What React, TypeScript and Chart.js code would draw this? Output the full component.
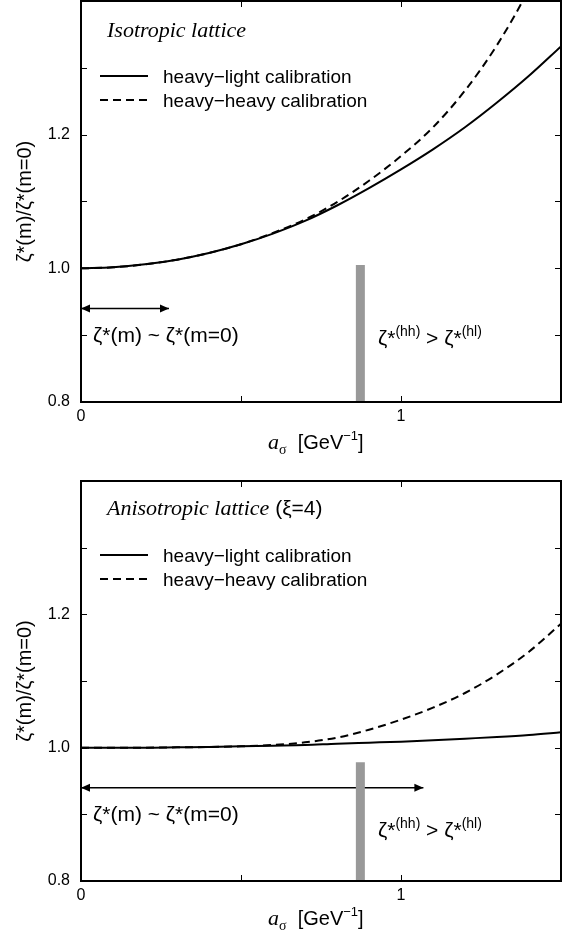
import React, { useEffect, useRef } from 'react';
import { Chart, registerables } from 'chart.js';

Chart.register(...registerables);

// lattice spacing a_sigma [GeV^-1]
const A_SIGMA = [0, 0.1, 0.2, 0.3, 0.4, 0.5, 0.6, 0.7, 0.8, 0.9, 1.0, 1.1, 1.2, 1.3, 1.4, 1.5];

// zeta*(m)/zeta*(m=0), isotropic lattice
const ISO_HEAVY_LIGHT = [1.0, 1.0015, 1.006, 1.013, 1.023, 1.036, 1.052, 1.071, 1.094, 1.12, 1.148, 1.178, 1.211, 1.248, 1.288, 1.332];
const ISO_HEAVY_HEAVY = [1.0, 1.0015, 1.006, 1.013, 1.023, 1.036, 1.053, 1.073, 1.099, 1.131, 1.168, 1.211, 1.266, 1.334, 1.418, 1.52];

// zeta*(m)/zeta*(m=0), anisotropic lattice (xi = 4)
const ANISO_HEAVY_LIGHT = [1.0, 1.0, 1.0, 1.0005, 1.001, 1.002, 1.003, 1.004, 1.006, 1.0075, 1.009, 1.011, 1.0135, 1.016, 1.019, 1.023];
const ANISO_HEAVY_HEAVY = [1.0, 1.0, 1.0, 1.0005, 1.001, 1.002, 1.004, 1.008, 1.015, 1.027, 1.042, 1.06, 1.082, 1.11, 1.144, 1.186];

// axis ranges and labels
const X_MIN = 0;
const X_MAX = 1.5;
const Y_MIN = 0.8;
const Y_MAX = 1.4;
const X_LABELS = [0, 1];
const Y_LABELS = [0.8, 1.0, 1.2];
const X_MINOR = [0.5, 1.0];
const Y_MINOR = [0.9, 1.0, 1.1, 1.2, 1.3];

// grey marker separating the two regimes, and the range arrow
const BAR_A = 0.873;
const ISO_BAR_TOP = 1.005;
const ANISO_BAR_TOP = 0.978;
const ARROW_Y = 0.94;
const ISO_ARROW_END = 0.275;
const ANISO_ARROW_END = 1.07;

const SANS = '"Liberation Sans", Arial, Helvetica, sans-serif';
const SERIF = '"Liberation Serif", "Times New Roman", Times, serif';
const GREY = '#999999';
const WIDTH = 573;

type Run = { text: string; font: string; dy?: number };

type Panel = {
  heavyLight: number[];
  heavyHeavy: number[];
  barTop: number;
  arrowEnd: number;
  hhLabelY: number;
  title: Run[];
  height: number;
  padTop: number;
  xAxisHeight: number;
  titleBaseline: number;
  legendY: number;
  xTitleBaseline: number;
};

const ISO_PANEL: Panel = {
  heavyLight: ISO_HEAVY_LIGHT,
  heavyHeavy: ISO_HEAVY_HEAVY,
  barTop: ISO_BAR_TOP,
  arrowEnd: ISO_ARROW_END,
  hhLabelY: 0.8955,
  title: [{ text: 'Isotropic lattice', font: `italic 22px ${SERIF}` }],
  height: 470,
  padTop: 1,
  xAxisHeight: 68,
  titleBaseline: 36,
  legendY: 75,
  xTitleBaseline: 47,
};

const ANISO_PANEL: Panel = {
  heavyLight: ANISO_HEAVY_LIGHT,
  heavyHeavy: ANISO_HEAVY_HEAVY,
  barTop: ANISO_BAR_TOP,
  arrowEnd: ANISO_ARROW_END,
  hhLabelY: 0.876,
  title: [
    { text: 'Anisotropic lattice', font: `italic 22px ${SERIF}` },
    { text: ' (ξ=4)', font: `21px ${SANS}` },
  ],
  height: 465,
  padTop: 11,
  xAxisHeight: 54,
  titleBaseline: 34,
  legendY: 74,
  xTitleBaseline: 44,
};

function drawRuns(ctx: CanvasRenderingContext2D, runs: Run[], x: number, y: number, align: 'left' | 'center' = 'left') {
  ctx.save();
  ctx.textBaseline = 'alphabetic';
  ctx.textAlign = 'left';
  ctx.fillStyle = '#000';
  let total = 0;
  const widths = runs.map((r) => {
    ctx.font = r.font;
    const w = ctx.measureText(r.text).width;
    total += w;
    return w;
  });
  let cx = align === 'center' ? x - total / 2 : x;
  runs.forEach((r, i) => {
    ctx.font = r.font;
    ctx.fillText(r.text, cx, y + (r.dy || 0));
    cx += widths[i];
  });
  ctx.restore();
}

function arrowHead(ctx: CanvasRenderingContext2D, tipX: number, y: number, dir: number) {
  const len = 9;
  const half = 4;
  ctx.beginPath();
  ctx.moveTo(tipX, y);
  ctx.lineTo(tipX - dir * len, y - half);
  ctx.lineTo(tipX - dir * len, y + half);
  ctx.closePath();
  ctx.fill();
}

function decorPlugin(p: Panel) {
  return {
    id: 'panelDecor',
    afterDraw(chart: any) {
      const ctx: CanvasRenderingContext2D = chart.ctx;
      const { left, right, top, bottom } = chart.chartArea;
      const xs = chart.scales.x;
      const ys = chart.scales.y;
      ctx.save();

      // arrow heads on the range arrow
      ctx.fillStyle = '#000';
      const ay = ys.getPixelForValue(ARROW_Y);
      arrowHead(ctx, xs.getPixelForValue(0), ay, -1);
      arrowHead(ctx, xs.getPixelForValue(p.arrowEnd), ay, 1);

      // inward tick marks on all four sides
      ctx.strokeStyle = '#000';
      ctx.lineWidth = 1;
      const tl = 6;
      ctx.beginPath();
      Y_MINOR.forEach((v) => {
        const y = Math.round(ys.getPixelForValue(v)) + 0.5;
        ctx.moveTo(left, y);
        ctx.lineTo(left + tl, y);
        ctx.moveTo(right, y);
        ctx.lineTo(right - tl, y);
      });
      X_MINOR.forEach((v) => {
        const x = Math.round(xs.getPixelForValue(v)) + 0.5;
        ctx.moveTo(x, bottom);
        ctx.lineTo(x, bottom - tl);
        ctx.moveTo(x, top);
        ctx.lineTo(x, top + tl);
      });
      ctx.stroke();

      // frame
      ctx.lineWidth = 2;
      ctx.strokeRect(left, top, right - left, bottom - top);

      // panel title
      drawRuns(ctx, p.title, left + 26, top + p.titleBaseline);

      // legend
      const rows: { label: string; dash: number[] }[] = [
        { label: 'heavy−light calibration', dash: [] },
        { label: 'heavy−heavy calibration', dash: [8, 5] },
      ];
      rows.forEach((r, i) => {
        const y = top + p.legendY + i * 24;
        ctx.save();
        ctx.lineWidth = 2;
        ctx.setLineDash(r.dash);
        ctx.beginPath();
        ctx.moveTo(left + 19, y);
        ctx.lineTo(left + 67, y);
        ctx.stroke();
        ctx.restore();
        drawRuns(ctx, [{ text: r.label, font: `19px ${SANS}` }], left + 82, y + 7);
      });

      // annotations
      drawRuns(ctx, [{ text: 'ζ*(m) ~ ζ*(m=0)', font: `21px ${SANS}` }], left + 12, ys.getPixelForValue(0.9) + 7);
      const big = `21px ${SANS}`;
      const small = `14px ${SANS}`;
      drawRuns(
        ctx,
        [
          { text: 'ζ*', font: big },
          { text: '(hh)', font: small, dy: -9 },
          { text: ' > ', font: big },
          { text: 'ζ*', font: big },
          { text: '(hl)', font: small, dy: -9 },
        ],
        xs.getPixelForValue(0.928),
        ys.getPixelForValue(p.hhLabelY) + 7,
      );

      // x axis title
      drawRuns(
        ctx,
        [
          { text: 'a', font: `italic 22px ${SERIF}` },
          { text: 'σ', font: `14px ${SERIF}`, dy: 5 },
          { text: '  [GeV', font: `20px ${SANS}` },
          { text: '−1', font: `13px ${SANS}`, dy: -9 },
          { text: ']', font: `20px ${SANS}` },
        ],
        left + 187,
        bottom + p.xTitleBaseline,
      );

      // y axis title
      ctx.save();
      ctx.translate(31, (top + bottom) / 2);
      ctx.rotate(-Math.PI / 2);
      drawRuns(ctx, [{ text: 'ζ*(m)/ζ*(m=0)', font: `20px ${SANS}` }], 0, 0, 'center');
      ctx.restore();

      ctx.restore();
    },
  };
}

function buildConfig(p: Panel): any {
  const pts = (ys: number[]) => A_SIGMA.map((x, i) => ({ x, y: ys[i] }));
  const tickFont = { family: SANS, size: 16 };
  return {
    type: 'line',
    data: {
      datasets: [
        {
          label: 'marker',
          data: [
            { x: BAR_A, y: Y_MIN },
            { x: BAR_A, y: p.barTop },
          ],
          borderColor: GREY,
          borderWidth: 9,
          borderCapStyle: 'butt',
          pointRadius: 0,
          tension: 0,
          clip: 0,
        },
        {
          label: 'heavy−light calibration',
          data: pts(p.heavyLight),
          borderColor: '#000',
          borderWidth: 2,
          pointRadius: 0,
          cubicInterpolationMode: 'monotone',
          clip: 0,
        },
        {
          label: 'heavy−heavy calibration',
          data: pts(p.heavyHeavy),
          borderColor: '#000',
          borderWidth: 2,
          borderDash: [8, 5],
          pointRadius: 0,
          cubicInterpolationMode: 'monotone',
          clip: 0,
        },
        {
          label: 'range',
          data: [
            { x: 0, y: ARROW_Y },
            { x: p.arrowEnd, y: ARROW_Y },
          ],
          borderColor: '#000',
          borderWidth: 1.5,
          pointRadius: 0,
          tension: 0,
        },
      ],
    },
    options: {
      responsive: false,
      maintainAspectRatio: false,
      animation: false,
      events: [],
      layout: { padding: { top: p.padTop, right: 12, left: 0, bottom: 0 } },
      plugins: {
        legend: { display: false },
        tooltip: { enabled: false },
        title: { display: false },
      },
      scales: {
        x: {
          type: 'linear',
          min: X_MIN,
          max: X_MAX,
          grid: { display: false, drawTicks: false },
          border: { display: false },
          ticks: {
            stepSize: 0.5,
            padding: 5,
            color: '#000',
            font: tickFont,
            maxRotation: 0,
            autoSkip: false,
            callback: (v: number) => (X_LABELS.some((l) => Math.abs(l - v) < 1e-6) ? String(Math.round(v)) : ''),
          },
          afterFit: (s: any) => {
            s.height = p.xAxisHeight;
            s.paddingLeft = 0;
            s.paddingRight = 0;
          },
        },
        y: {
          type: 'linear',
          min: Y_MIN,
          max: Y_MAX,
          grid: { display: false, drawTicks: false },
          border: { display: false },
          ticks: {
            stepSize: 0.2,
            padding: 11,
            color: '#000',
            font: tickFont,
            callback: (v: number) => (Y_LABELS.some((l) => Math.abs(l - v) < 1e-6) ? v.toFixed(1) : ''),
          },
          afterFit: (s: any) => {
            s.width = 81;
            s.paddingTop = 0;
            s.paddingBottom = 0;
          },
        },
      },
    },
    plugins: [decorPlugin(p)],
  };
}

function PanelChart({ panel }: { panel: Panel }) {
  const ref = useRef<HTMLCanvasElement>(null);
  useEffect(() => {
    if (!ref.current) return;
    const chart = new Chart(ref.current, buildConfig(panel));
    return () => chart.destroy();
  }, [panel]);
  return (
    <canvas
      ref={ref}
      width={WIDTH}
      height={panel.height}
      style={{ display: 'block', width: WIDTH, height: panel.height }}
    />
  );
}

export default function App() {
  return (
    <div style={{ position: 'absolute', left: 0, top: 0, width: WIDTH, height: 935, background: '#fff' }}>
      <PanelChart panel={ISO_PANEL} />
      <PanelChart panel={ANISO_PANEL} />
    </div>
  );
}
